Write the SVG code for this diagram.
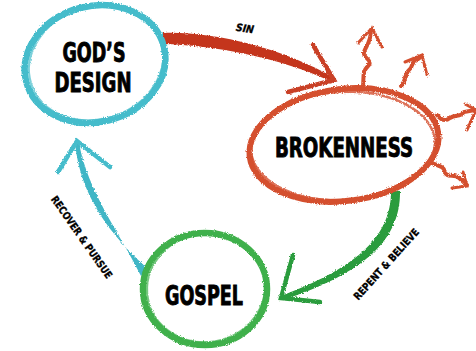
<svg xmlns="http://www.w3.org/2000/svg" width="476" height="351" viewBox="0 0 476 351">
<defs>
<filter id="rough" x="-10%" y="-10%" width="120%" height="120%">
<feTurbulence type="fractalNoise" baseFrequency="0.9" numOctaves="2" seed="3" result="n"/>
<feDisplacementMap in="SourceGraphic" in2="n" scale="3" xChannelSelector="R" yChannelSelector="G"/>
</filter>
<style>
.cy{stroke:#45bccb;fill:none;stroke-linecap:round}
.rd{stroke:#c94128;fill:none;stroke-linecap:round}
.rd2{stroke:#d4502f;fill:none;stroke-linecap:round}
.gr{stroke:#3fb04c;fill:none;stroke-linecap:round}
.gr2{stroke:#2a9c3c;fill:none;stroke-linecap:round}
.big{font-family:"Liberation Sans Narrow","DejaVu Sans Condensed","Liberation Sans",sans-serif;font-weight:bold;fill:#000;stroke:#000;stroke-width:0.9;text-anchor:middle}
.sm{font-family:"Liberation Sans Narrow","DejaVu Sans Condensed","Liberation Sans",sans-serif;font-weight:bold;fill:#000;stroke:#000;stroke-width:0.3;text-anchor:middle;font-size:10.5px}
</style>
</defs>
<g id="connectors" filter="url(#rough)">
<g id="sin-arrow">
<path d="M163,33 C210,31 282,47 334,78 L332,82 C280,57 210,45 163,44 Z" fill="#c4361e"/>
<path d="M313,45 L334,80 L288,92" class="rd" stroke-width="4.5" stroke="#c4361e"/>
</g>
<g id="repent-arrow">
<path d="M391,190 C392,240 350,270 281,296 L283,300 C355,276 401,245 400,191 Z" fill="#2a9c3c"/>
<path d="M293,255 L281,298 L320,302" class="gr2" stroke-width="4.5"/>
</g>
<g id="recover-arrow">
<path d="M147,268 C110,235 80,195 75,143 L79,143 C88,192 118,230 141,276 Z" fill="#40b6c6"/>
<path d="M58,172 L77,141 L110,167" class="cy" stroke-width="4.5"/>
</g>
</g>
<g id="rays" filter="url(#rough)">
<path d="M363,86 C364,76 362,72 368,66 C374,60 362,58 364,52 C366,46 371,42 371,30" class="rd2" stroke-width="4"/>
<path d="M358,43 L372,28 L382,47" class="rd2" stroke-width="3"/>
<path d="M401,86 C407,80 404,74 409,70 C414,66 410,62 417,60 L422,56" class="rd2" stroke-width="4"/>
<path d="M405,62 L422,55 L427,75" class="rd2" stroke-width="3"/>
<path d="M437,115 C441,120 445,122 450,118 C456,114 460,118 464,112 L475,110" class="rd2" stroke-width="4"/>
<path d="M465,104 L476,110 L467,130" class="rd2" stroke-width="3"/>
<path d="M432,163 C438,166 444,166 445,172 C446,178 455,174 459,178 L467,185" class="rd2" stroke-width="4"/>
<path d="M463,172 L467,186 L452,188" class="rd2" stroke-width="3"/>
</g>
<g id="gods-design">
<g filter="url(#rough)">
<ellipse cx="95" cy="64" rx="71" ry="58" transform="rotate(-14 95 64)" class="cy" stroke-width="6.5"/>
<ellipse cx="96" cy="63" rx="68" ry="56" transform="rotate(-18 96 63)" class="cy" stroke-width="2" opacity="0.7"/>
</g>
<text class="big" x="94" y="62" font-size="26.5" textLength="63" lengthAdjust="spacingAndGlyphs">GOD’S</text>
<text class="big" x="93" y="92" font-size="26.5" textLength="77" lengthAdjust="spacingAndGlyphs">DESIGN</text>
</g>
<g id="brokenness">
<g filter="url(#rough)">
<ellipse cx="344" cy="145" rx="95" ry="56" transform="rotate(-7 344 145)" class="rd2" stroke-width="6"/>
<ellipse cx="343" cy="146" rx="92" ry="54" transform="rotate(-3 343 146)" class="rd2" stroke-width="2.5" opacity="0.8"/>
</g>
<text class="big" x="344" y="157" font-size="27" textLength="138" lengthAdjust="spacingAndGlyphs">BROKENNESS</text>
</g>
<g id="gospel">
<g filter="url(#rough)">
<ellipse cx="205" cy="289" rx="62" ry="56" class="gr" stroke-width="6.5"/>
<ellipse cx="206" cy="288" rx="59" ry="54" transform="rotate(-10 206 288)" class="gr" stroke-width="2" opacity="0.7"/>
</g>
<text class="big" x="204" y="305" font-size="27" textLength="78" lengthAdjust="spacingAndGlyphs">GOSPEL</text>
</g>
<g id="labels">
<text class="sm" x="245" y="32" font-style="italic" transform="rotate(8 245 28)">SIN</text>
<text class="sm" transform="translate(82,237) rotate(55)" x="0" y="4" textLength="98" lengthAdjust="spacingAndGlyphs">RECOVER &amp; PURSUE</text>
<text class="sm" transform="translate(386,264) rotate(-48)" x="0" y="4" textLength="92" lengthAdjust="spacingAndGlyphs">REPENT &amp; BELIEVE</text>
</g>
</svg>
